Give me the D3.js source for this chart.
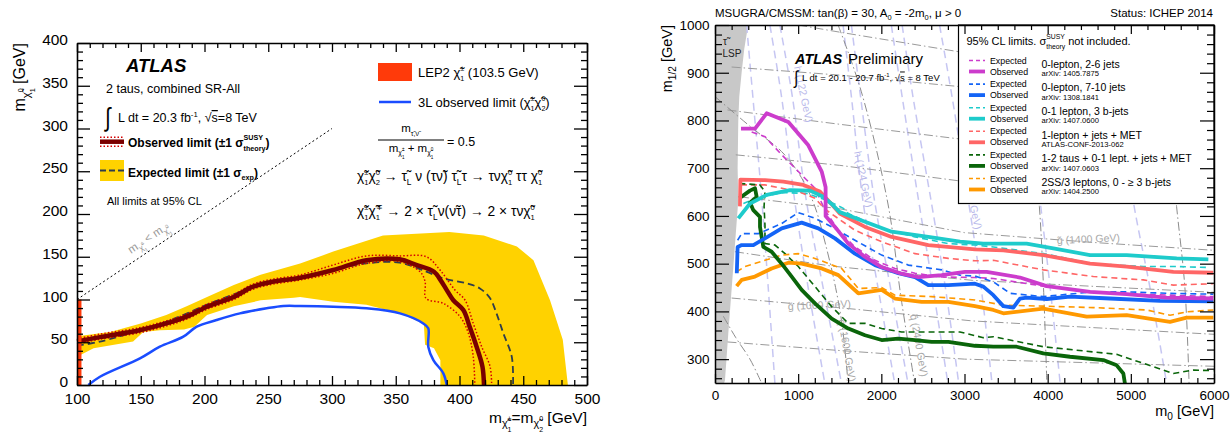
<!DOCTYPE html>
<html><head><meta charset="utf-8">
<script src="https://cdn.jsdelivr.net/npm/d3@7/dist/d3.min.js"></script>
<style>
html,body{margin:0;padding:0;background:#fff;}
svg text{font-family:"Liberation Sans",Arial,Helvetica,sans-serif;}
</style></head><body>
<svg id="chart" width="1232" height="437"></svg>
<script>
// ================= LEFT PANEL DATA  (x: m(chargino)=m(neutralino2) [GeV], y: m(LSP) [GeV]) =================
const leftXTicks = [100,150,200,250,300,350,400,450,500];
const leftYTicks = [0,50,100,150,200,250,300,350,400];
const bandUpper = [[100,57],[126,62],[150,72],[170,82],[186,92],[202,103],[223,117],[244,129],[275,142],[301,156],[340,175],[392,179],[419,175],[445,162],[458,146],[471,99],[481,53],[485,0]];
const bandLower = [[385,0],[385,29],[380,43],[373,47],[372,72],[353,84],[327,94],[301,97.5],[275,103],[270,102],[244,99],[223,92],[202,82],[192,68],[184,65],[165,64],[152,62],[144,51],[113,43],[100,33]];
const expectedLimit = [[100,46],[118,50.7],[150,64.5],[170,74],[186,83.5],[202,94],[223,106],[238,115.5],[254,121],[275,125],[301,134.5],[327,142.3],[353,143.1],[374,132.6],[387,124.8],[405.6,118.9],[416,113],[424,101.4],[429,83.8],[434.4,60.4],[441,33],[442,0]];
const observedLimit = [[100,51],[118,56],[149,64],[170,72],[186,80],[202,91.5],[223,103],[238,115],[254,121],[275,125.5],[301,134.5],[327,146],[353,147],[366,140.5],[380,132.5],[385,123],[390,111],[395,99.4],[403,87.7],[408,68],[413.4,44.8],[418,21.4],[419.2,0]];
const observedUp = [[100,54],[118,59.5],[149,67],[170,75],[186,83],[202,94.5],[223,106],[238,118],[254,124],[275,128.7],[301,140.4],[327,151],[353,151],[374,150],[384.7,134.5],[396.5,111],[404.3,99.4],[410.8,72],[417.4,44.8],[424,21.4],[425.2,0]];
const observedDown = [[100,48],[118,53.5],[149,61],[170,69],[186,77],[202,88.5],[223,100],[238,112],[254,118],[275,122.8],[301,130.6],[327,142.3],[353,144.3],[369,132.6],[373,121],[373.7,101.4],[387.3,95.5],[400.4,80],[407,60.4],[410.8,33],[412,0]];
const limit3L = [[108.9,0],[118,9.7],[149.4,31.2],[165,44.8],[183.4,56.5],[193.9,68.2],[209.5,76],[227.8,83.8],[248.8,89.7],[261.8,92.4],[275,92.4],[301,91.6],[327,89.7],[353.3,83.8],[371.6,72],[375.5,66.3],[375.5,44.8],[379.5,29.2],[387.3,13.6],[390,0]];
const lep2Range = [100,103.5];
const lep2Top = 100;
const kinematicDiagonal = [[100,100],[300,300]];

// ================= RIGHT PANEL DATA  (x: m0 [GeV], y: m1/2 [GeV]) =================
const rightXTicks = [0,1000,2000,3000,4000,5000,6000];
const rightYTicks = [300,400,500,600,700,800,900,1000];
const stauLSP = [[0,1000],[400,1000],[380,980],[352,950],[320,900],[292,850],[280,800],[272,700],[280,633],[220,493],[160,354],[120,256],[110,250],[0,250]];
const higgs1 = [[380,1000],[470,820],[560,640],[640,450],[720,250]];
const higgs2 = [[660,1000],[800,850],[960,630],[1120,450],[1320,250]];
const higgs3 = [[780,1000],[930,850],[1100,630],[1300,450],[1520,250]];
const higgs4 = [[1540,1000],[1640,850],[1780,630],[1960,450],[2160,250]];
const higgs5 = [[1640,1000],[1750,850],[1920,630],[2110,450],[2320,250]];
const higgs6 = [[2120,1000],[2250,850],[2450,630],[2620,450],[2800,250]];
const higgs7 = [[2250,1000],[2380,850],[2600,630],[2770,450],[2930,250]];
const higgs8 = [[2700,1000],[2850,850],[3046,633],[3200,450],[3330,250]];
const higgs9 = [[3650,1000],[3760,850],[3908,633],[4030,450],[4150,250]];
const higgs10 = [[4700,1000],[4850,850],[5030,630],[5230,450],[5430,250]];
const gluino2200 = [[1000,1000],[1500,985],[3000,942],[6000,880]];
const gluino2000 = [[200,912],[1500,895],[3000,870],[6000,830]];
const gluino1800 = [[150,822],[1500,792],[3000,760],[6000,725]];
const gluino1600 = [[250,728],[1500,706],[3000,672],[6000,640]];
const gluino1400 = [[300,640],[1500,615],[3000,565],[4500,545],[6000,528]];
const gluino1200 = [[240,525],[1400,495],[3100,465],[6000,440]];
const gluino1000 = [[200,428],[1600,406],[3100,380],[6000,352]];
const gluino800 = [[150,336],[1500,318],[3000,300],[6000,285]];
const squark1000 = [[100,390],[250,345],[420,300],[560,250]];
const squark1600 = [[0,850],[440,785],[800,735],[1040,680],[1200,620],[1330,540],[1450,450],[1530,370],[1600,250]];
const squark2400 = [[1480,1000],[1760,860],[2080,625],[2240,425],[2400,250]];
const squark3000 = [[3700,1000],[3800,800],[3900,620],[3950,450],[3990,250]];
const squark4000 = [[5300,1000],[5450,800],[5550,620],[5650,450],[5700,250]];

const zl26Exp = [[441,776],[601,766],[802,728],[1002,693],[1202,658],[1323,612],[1483,570],[1683,535],[1924,507],[2164,490],[2405,480],[2725,472],[3126,471],[3347,469],[3948,453],[4549,441],[5150,436],[5992,431]];
const zl26Obs = [[313,783],[481,783],[621,815],[882,797],[1122,748],[1283,693],[1330,660],[1330,600],[1443,577],[1603,542],[1804,514],[2004,493],[2244,479],[2445,472],[2725,476],[3006,483],[3267,483],[3667,471],[3988,453],[4509,441],[4950,436],[5431,429],[5992,427]];
const zl710Exp = [[272,549],[321,563],[521,563],[802,584],[1002,607],[1202,595],[1403,577],[1683,549],[2004,518],[2325,497],[2725,487],[2946,476],[3126,474],[3347,462],[3547,438],[3948,431],[4549,441],[4950,441],[5431,438],[5992,436]];
const zl710Obs = [[262,480],[272,535],[321,539],[461,539],[601,553],[802,574],[1042,586],[1242,574],[1443,553],[1683,521],[1924,497],[2204,480],[2405,472],[2565,455],[2806,455],[3126,458],[3227,452],[3347,434],[3467,411],[3587,408],[3667,427],[3748,429],[3988,426],[4269,431],[4750,427],[5351,422],[5992,421]];
const b3Exp = [[341,626],[541,640],[822,649],[1102,647],[1342,633],[1543,616],[1603,605],[2004,574],[2405,556],[2806,542],[3126,539],[3347,535],[3948,521],[4549,500],[5150,494],[5551,494],[5932,492]];
const b3Obs = [[280,595],[421,626],[621,644],[902,654],[1142,653],[1302,640],[1403,625],[1500,608],[1804,588],[2124,567],[2565,556],[2946,546],[3226,542],[3747,542],[4068,532],[4509,518],[4950,518],[5551,511],[5932,509]];
const l1Exp = [[313,665],[601,665],[1002,651],[1202,637],[1323,614],[1683,570],[2004,546],[2405,521],[2806,511],[3126,506],[3347,507],[3948,487],[4549,473],[5150,466],[5511,455],[5992,458]];
const l1Obs = [[300,620],[305,676],[601,675],[822,672],[1062,665],[1262,651],[1400,625],[1500,605],[1804,577],[2124,556],[2565,539],[3126,530],[3467,528],[3948,518],[4509,500],[4950,494],[5511,483],[5992,481]];
const tauExp = [[293,668],[541,665],[601,651],[590,620],[601,580],[601,542],[721,539],[842,521],[1002,494],[1202,452],[1403,410],[1603,375],[1804,375],[2004,364],[2244,357],[2725,357],[2946,357],[3226,345],[3347,347],[3948,326],[4830,310],[5511,270],[5751,277],[5992,276]];
const tauObs = [[293,637],[421,653],[481,658],[501,640],[421,628],[461,612],[541,598],[541,577],[581,535],[681,525],[802,500],[922,473],[1042,445],[1202,417],[1403,385],[1603,364],[1804,350],[2004,340],[2204,343],[2405,340],[2605,336],[2806,336],[3126,328],[3347,326],[3627,326],[3948,312],[4269,305],[4669,298],[4830,287],[4910,270],[4930,248]];
const ss3lExp = [[260,483],[361,494],[601,507],[802,518],[1002,521],[1202,511],[1523,490],[1723,448],[2004,450],[2164,434],[2605,431],[3126,424],[3467,413],[3948,411],[4549,408],[5190,403],[5471,392],[5671,399],[5992,403]];
const ss3lObs = [[260,453],[321,466],[481,473],[681,490],[882,502],[1042,500],[1283,490],[1483,476],[1723,438],[2004,445],[2164,427],[2485,420],[2806,420],[3126,411],[3347,403],[3467,396],[3948,406],[4469,389],[4950,392],[5471,378],[5671,387],[5992,387]];
const analysisNames = ["0-lepton, 2-6 jets","0-lepton, 7-10 jets","0-1 lepton, 3 b-jets","1-lepton + jets + MET","1-2 taus + 0-1 lept. + jets + MET","2SS/3 leptons, 0 - \u2265 3 b-jets"];
const analysisRefs = ["arXiv: 1405.7875","arXiv: 1308.1841","arXiv: 1407.0600","ATLAS-CONF-2013-062","arXiv: 1407.0603","arXiv: 1404.2500"];

// ================= helpers =================
const CHI = "\u03C7\u0303", TAU = "\u03C4\u0303", NUT = "\u03BD\u0303";
const FONT = '"Liberation Sans", Arial, Helvetica, sans-serif';
const svg = d3.select("#chart");

function rich(g, x, y, size, segs, o = {}) {
  const t = g.append("text").attr("x", x).attr("y", y).attr("font-size", size);
  if (o.anchor) t.attr("text-anchor", o.anchor);
  t.attr("fill", o.fill || "#000");
  if (o.weight) t.attr("font-weight", o.weight);
  if (o.style) t.attr("font-style", o.style);
  if (o.transform) t.attr("transform", o.transform).attr("x", 0).attr("y", 0);
  let cur = 0, pend = 0;
  const add = (str, off, fs, dx) => {
    const ts = t.append("tspan").text(str).attr("font-size", fs).attr("dy", cur - off);
    const d = (dx || 0) + pend; pend = 0;
    if (d) ts.attr("dx", d);
    cur = off;
    return ts;
  };
  segs.forEach(s => {
    if (typeof s === "string") { add(s, 0, size); return; }
    const fs = size * (s.f || 1);
    if (s.up !== undefined) {
      const a = add(s.up, size * s.u, fs);
      const wa = a.node().getComputedTextLength();
      const b = add(s.dn, size * s.d, fs, -wa);
      const wb = b.node().getComputedTextLength();
      if (wa > wb) pend = wa - wb;
    } else {
      const ts = add(s.t, size * (s.o || 0), fs, s.dx);
      if (s.deco) ts.attr("text-decoration", s.deco);
    }
  });
  return t;
}

function drawAxes(g, x, y, c) {
  const [xa, xb] = x.range(), [ya, yb] = y.range();
  const st = sel => {
    sel.attr("font-family", FONT).attr("font-size", c.font);
    sel.selectAll("path.domain").attr("stroke", "#000").attr("stroke-width", c.sw);
    sel.selectAll(".tick line").attr("stroke", "#000").attr("stroke-width", c.tw);
    sel.selectAll(".tick text").attr("fill", "#000");
  };
  const nod = sel => sel.select("path.domain").remove();
  const none = () => "";
  g.append("g").attr("transform", `translate(0,${ya})`).call(d3.axisBottom(x).tickValues(c.xMin).tickSize(-c.xl).tickFormat(none)).call(st).call(nod);
  g.append("g").attr("transform", `translate(0,${yb})`).call(d3.axisTop(x).tickValues(c.xMin).tickSize(-c.xl).tickFormat(none)).call(st).call(nod);
  g.append("g").attr("transform", `translate(${xa},0)`).call(d3.axisLeft(y).tickValues(c.yMin).tickSize(-c.yl).tickFormat(none)).call(st).call(nod);
  g.append("g").attr("transform", `translate(${xb},0)`).call(d3.axisRight(y).tickValues(c.yMin).tickSize(-c.yl).tickFormat(none)).call(st).call(nod);
  g.append("g").attr("transform", `translate(0,${ya})`).call(d3.axisBottom(x).tickValues(c.xMaj).tickSize(-c.xL).tickSizeOuter(0).tickPadding(c.xPad).tickFormat(d3.format("d"))).call(st);
  g.append("g").attr("transform", `translate(0,${yb})`).call(d3.axisTop(x).tickValues(c.xMaj).tickSize(-c.xL).tickSizeOuter(0).tickFormat(none)).call(st);
  const yl = g.append("g").attr("transform", `translate(${xa},0)`).call(d3.axisLeft(y).tickValues(c.yMaj).tickSize(-c.yL).tickSizeOuter(0).tickPadding(c.yPad).tickFormat(d3.format("d"))).call(st);
  if (c.yDy) yl.selectAll(".tick text").attr("dy", c.yDy);
  g.append("g").attr("transform", `translate(${xb},0)`).call(d3.axisRight(y).tickValues(c.yMaj).tickSize(-c.yL).tickSizeOuter(0).tickFormat(none)).call(st);
}

// ================= LEFT PANEL =================
const xL = d3.scaleLinear().domain([100,500]).range([77,587]);
const yL = d3.scaleLinear().domain([0,400]).range([385,43]);
const smoothL = d3.line().x(d => xL(d[0])).y(d => yL(d[1])).curve(d3.curveCatmullRom.alpha(0.5));
const polyL = d3.line().x(d => xL(d[0])).y(d => yL(d[1]));
const gL = svg.append("g");

gL.append("path").attr("d", polyL(bandUpper.concat(bandLower)) + "Z").attr("fill", "#ffd200");
gL.append("path").attr("d", smoothL(expectedLimit)).attr("fill","none").attr("stroke","#2e3c4c").attr("stroke-width",1.8).attr("stroke-dasharray","7,4");
[observedUp, observedDown].forEach(a => gL.append("path").attr("d", smoothL(a)).attr("fill","none").attr("stroke","#d40000").attr("stroke-width",1.5).attr("stroke-dasharray","1.5,2"));
gL.append("path").attr("d", smoothL(observedLimit)).attr("fill","none").attr("stroke","#7a0000").attr("stroke-width",4.5);
gL.append("path").attr("d", smoothL(limit3L)).attr("fill","none").attr("stroke","#1a4cff").attr("stroke-width",2.5);
gL.append("rect").attr("x", xL(lep2Range[0])).attr("y", yL(lep2Top)).attr("width", xL(lep2Range[1]) - xL(lep2Range[0])).attr("height", yL(0) - yL(lep2Top)).attr("fill", "#ff3a0a");
gL.append("path").attr("d", polyL(kinematicDiagonal)).attr("stroke","#000").attr("stroke-width",1).attr("stroke-dasharray","2,2.5").attr("fill","none");

rich(gL, 0, 0, 11.5, ["m", {t:CHI,o:-0.3,f:0.7}, {up:"\u00B1",dn:"1",u:0.1,d:-0.6,f:0.45}, " < m", {t:CHI,o:-0.3,f:0.7}, {up:"0",dn:"1",u:0.1,d:-0.6,f:0.45}], {fill:"#999", transform:"translate(131,254) rotate(-33.8)"});

gL.append("text").attr("x",126).attr("y",72).attr("font-size",18.5).attr("font-weight","bold").attr("font-style","italic").text("ATLAS");
gL.append("text").attr("x",106).attr("y",93).attr("font-size",12.5).text("2 taus, combined SR-All");
gL.append("text").attr("x",105).attr("y",126).attr("font-size",20).attr("transform","translate(105,126) scale(1,1.3) translate(-105,-126)").text("\u222B");
rich(gL, 118, 122, 12.5, ["L dt = 20.3 fb", {t:"-1",o:0.4,f:0.62}, ", \u221A", {t:"s",deco:"overline"}, "=8 TeV"]);
gL.append("line").attr("x1",100).attr("x2",124).attr("y1",141.7).attr("y2",141.7).attr("stroke","#7a0000").attr("stroke-width",4.5);
[137.3,146.2].forEach(yy => gL.append("line").attr("x1",100).attr("x2",124).attr("y1",yy).attr("y2",yy).attr("stroke","#d40000").attr("stroke-width",1.5).attr("stroke-dasharray","1.5,2"));
rich(gL, 128, 146.5, 12, ["Observed limit (\u00B11 \u03C3", {up:"SUSY",dn:"theory",u:0.55,d:-0.35,f:0.6}, ")"], {weight:"bold"});
gL.append("rect").attr("x",100).attr("y",160).attr("width",24).attr("height",21).attr("fill","#ffd200");
gL.append("line").attr("x1",100).attr("x2",124).attr("y1",170.5).attr("y2",170.5).attr("stroke","#2e3c4c").attr("stroke-width",1.8).attr("stroke-dasharray","6,3");
rich(gL, 128, 176.5, 12, ["Expected limit (\u00B11 \u03C3", {t:"exp",o:-0.3,f:0.6}, ")"], {weight:"bold"});
gL.append("text").attr("x",107).attr("y",205).attr("font-size",11).text("All limits at 95% CL");

gL.append("rect").attr("x",378).attr("y",63).attr("width",34).attr("height",18).attr("fill","#ff3a0a");
rich(gL, 418, 77, 13, ["LEP2 ", CHI, {up:"\u00B1",dn:"1",u:0.45,d:-0.3,f:0.55}, " (103.5 GeV)"]);
gL.append("line").attr("x1",379).attr("x2",411).attr("y1",102).attr("y2",102).attr("stroke","#1a4cff").attr("stroke-width",2.5);
rich(gL, 418, 107, 13, ["3L observed limit (", CHI, {up:"\u00B1",dn:"1",u:0.45,d:-0.3,f:0.55}, CHI, {up:"0",dn:"2",u:0.45,d:-0.3,f:0.55}, ")"]);
rich(gL, 410, 132, 11.5, ["m", {t:TAU+","+NUT,o:-0.35,f:0.6}], {anchor:"middle"});
gL.append("line").attr("x1",378).attr("x2",444).attr("y1",140).attr("y2",140).attr("stroke","#000").attr("stroke-width",1);
rich(gL, 411, 152, 11.5, ["m", {t:CHI,o:-0.3,f:0.6}, {up:"\u00B1",dn:"1",u:0.05,d:-0.6,f:0.4}, "  +  m", {t:CHI,o:-0.3,f:0.6}, {up:"0",dn:"1",u:0.05,d:-0.6,f:0.4}], {anchor:"middle"});
gL.append("text").attr("x",447).attr("y",146).attr("font-size",12.5).text("= 0.5");
rich(gL, 357, 181, 13.8, [CHI, {up:"\u00B1",dn:"1",u:0.45,d:-0.3,f:0.55}, CHI, {up:"0",dn:"2",u:0.45,d:-0.3,f:0.55}, " \u2192 ", TAU, {t:"L",o:-0.3,f:0.6}, " \u03BD (\u03C4"+NUT+") ", TAU, {t:"L",o:-0.3,f:0.6}, "\u03C4 \u2192 \u03C4\u03BD", CHI, {up:"0",dn:"1",u:0.45,d:-0.3,f:0.55}, " \u03C4\u03C4 ", CHI, {up:"0",dn:"1",u:0.45,d:-0.3,f:0.55}]);
rich(gL, 357, 216, 13.8, [CHI, {up:"\u00B1",dn:"1",u:0.45,d:-0.3,f:0.55}, CHI, {up:"\u2213",dn:"1",u:0.45,d:-0.3,f:0.55}, " \u2192 2 \u00D7 ", TAU, {t:"L",o:-0.3,f:0.6}, "\u03BD("+NUT+"\u03C4) \u2192 2 \u00D7 \u03C4\u03BD", CHI, {up:"0",dn:"1",u:0.45,d:-0.3,f:0.55}]);

drawAxes(gL, xL, yL, {xMaj:leftXTicks, xMin:d3.range(100,501,10).filter(v=>v%50), yMaj:leftYTicks, yMin:d3.range(0,401,10).filter(v=>v%50), xL:9, xl:5, yL:13, yl:6, xPad:8, yPad:9, yDy:"0.1em", font:15.5, sw:1.6, tw:1.3});
rich(gL, 587, 422.5, 15.5, ["m", {t:CHI,o:-0.3,f:0.7}, {up:"\u00B1",dn:"1",u:0.1,d:-0.6,f:0.45}, "=m", {t:CHI,o:-0.3,f:0.7}, {up:"0",dn:"2",u:0.1,d:-0.6,f:0.45}, " [GeV]"], {anchor:"end"});
rich(gL, 0, 0, 16, ["m", {t:CHI,o:-0.3,f:0.7}, {up:"0",dn:"1",u:0.1,d:-0.6,f:0.45}, " [GeV]"], {anchor:"end", transform:"translate(25,43) rotate(-90)"});

// ================= RIGHT PANEL =================
const xR = d3.scaleLinear().domain([0,6000]).range([715,1214]);
const yR = d3.scaleLinear().domain([250,1000]).range([383,25]);
const lineR = d3.line().x(d => xR(d[0])).y(d => yR(d[1]));
const curveR = d3.line().x(d => xR(d[0])).y(d => yR(d[1])).curve(d3.curveCatmullRom);
const gR = svg.append("g");
svg.append("defs").append("clipPath").attr("id","clipR").append("rect").attr("x",715).attr("y",25).attr("width",499).attr("height",358);
const gC = gR.append("g").attr("clip-path","url(#clipR)");

gC.append("path").attr("d", lineR(stauLSP) + "Z").attr("fill","#c8c8c8");
[higgs1,higgs2,higgs3,higgs4,higgs5,higgs6,higgs7,higgs8,higgs9,higgs10].forEach(a => gC.append("path").attr("d", curveR(a)).attr("fill","none").attr("stroke","#c6c6f2").attr("stroke-width",1.5).attr("stroke-dasharray","8,5"));
[gluino2200,gluino2000,gluino1800,gluino1600,gluino1400,gluino1200,gluino1000,gluino800].forEach(a => gC.append("path").attr("d", lineR(a)).attr("fill","none").attr("stroke","#9a9a9a").attr("stroke-width",1).attr("stroke-dasharray","9,3,1.5,3"));
[squark1000,squark1600,squark2400,squark3000,squark4000].forEach(a => gC.append("path").attr("d", curveR(a)).attr("fill","none").attr("stroke","#8c8c8c").attr("stroke-width",1).attr("stroke-dasharray","9,3,1.5,3"));

const lab = (x, y, rot, txt, col) => gC.append("text").attr("transform", `translate(${x},${y}) rotate(${rot})`).attr("font-size",10.5).attr("fill",col).text(txt);
lab(794, 67, 78, "h (122 GeV)", "#b8b8ea");
lab(854, 152, 78, "h (124 GeV)", "#b8b8ea");
lab(963, 174, 78, "h (126 GeV)", "#b8b8ea");
lab(838, 320, 80, "q\u0303 (1600 GeV)", "#a8a8a8");
lab(910, 315, 80, "q\u0303 (2400 GeV)", "#a8a8a8");
lab(788, 310, -2.5, "g\u0303 (1000 GeV)", "#a8a8a8");
lab(1057, 244, -2.5, "g\u0303 (1400 GeV)", "#a8a8a8");

const analyses = [
  {exp: zl26Exp, obs: zl26Obs, color: "#cc3ccc"},
  {exp: zl710Exp, obs: zl710Obs, color: "#1464f6"},
  {exp: b3Exp, obs: b3Obs, color: "#1ecbcb"},
  {exp: l1Exp, obs: l1Obs, color: "#ff6666"},
  {exp: tauExp, obs: tauObs, color: "#0a650a"},
  {exp: ss3lExp, obs: ss3lObs, color: "#ff9900"}
];
analyses.forEach(a => gC.append("path").attr("d", lineR(a.exp)).attr("fill","none").attr("stroke",a.color).attr("stroke-width",1.6).attr("stroke-dasharray","6,4"));
[5,4,3,2,1,0].forEach(i => gC.append("path").attr("d", lineR(analyses[i].obs)).attr("fill","none").attr("stroke",analyses[i].color).attr("stroke-width",3.8).attr("stroke-linejoin","round"));

gR.append("text").attr("x",723).attr("y",45).attr("font-size",10).attr("fill","#222").text(TAU);
gR.append("text").attr("x",722.5).attr("y",57).attr("font-size",10).attr("fill","#222").text("LSP");
gR.append("text").attr("x",795).attr("y",63.5).attr("font-size",14.5).attr("font-weight","bold").attr("font-style","italic").text("ATLAS");
gR.append("text").attr("x",848).attr("y",63.5).attr("font-size",15).text("Preliminary");
gR.append("text").attr("x",794).attr("y",84).attr("font-size",15).attr("transform","translate(794,84) scale(1,1.25) translate(-794,-84)").text("\u222B");
rich(gR, 802, 80.5, 9.5, ["L dt = 20.1 - 20.7 fb", {t:"-1",o:0.4,f:0.62}, ", \u221A", {t:"s",deco:"overline"}, " = 8 TeV"]);

gR.append("rect").attr("x",958.5).attr("y",25).attr("width",255.5).attr("height",178.5).attr("fill","#fff").attr("stroke","#000").attr("stroke-width",1.2);
rich(gR, 966.5, 45, 11, ["95% CL limits.  \u03C3", {up:"SUSY",dn:"theory",u:0.55,d:-0.35,f:0.62}, " not included."]);
analyses.forEach((a, i) => {
  const ye = 60.5 + i * 23.6, yo = 71.5 + i * 23.6;
  gR.append("line").attr("x1",969).attr("x2",985).attr("y1",ye).attr("y2",ye).attr("stroke",a.color).attr("stroke-width",1.6).attr("stroke-dasharray","4,3");
  gR.append("line").attr("x1",969).attr("x2",985).attr("y1",yo).attr("y2",yo).attr("stroke",a.color).attr("stroke-width",3.8);
  gR.append("text").attr("x",990).attr("y",ye+3).attr("font-size",8.8).text("Expected");
  gR.append("text").attr("x",990).attr("y",yo+3).attr("font-size",8.8).text("Observed");
  gR.append("text").attr("x",1041.5).attr("y",67.7 + i*23.6).attr("font-size",10.5).text(analysisNames[i]);
  gR.append("text").attr("x",1041.5).attr("y",76.2 + i*23.6).attr("font-size",7.6).text(analysisRefs[i]);
});

drawAxes(gR, xR, yR, {xMaj:rightXTicks, xMin:d3.range(0,6001,200).filter(v=>v%1000), yMaj:rightYTicks, yMin:d3.range(260,1001,20).filter(v=>v%100), xL:9, xl:5, yL:14, yl:7, xPad:7.5, yPad:5.5, font:13.5, sw:1.5, tw:1.2});
rich(gR, 715, 16.5, 11.5, ["MSUGRA/CMSSM: tan(\u03B2) = 30, A", {t:"0",o:-0.3,f:0.65}, " = -2m", {t:"0",o:-0.3,f:0.65}, ", \u03BC > 0"]);
gR.append("text").attr("x",1213).attr("y",16.5).attr("font-size",11.5).attr("text-anchor","end").text("Status: ICHEP 2014");
rich(gR, 1214, 416, 14.5, ["m", {t:"0",o:-0.3,f:0.7}, " [GeV]"], {anchor:"end"});
rich(gR, 0, 0, 14.5, ["m", {t:"1/2",o:-0.3,f:0.7}, " [GeV]"], {anchor:"end", transform:"translate(672,25) rotate(-90)"});
</script></body></html>
